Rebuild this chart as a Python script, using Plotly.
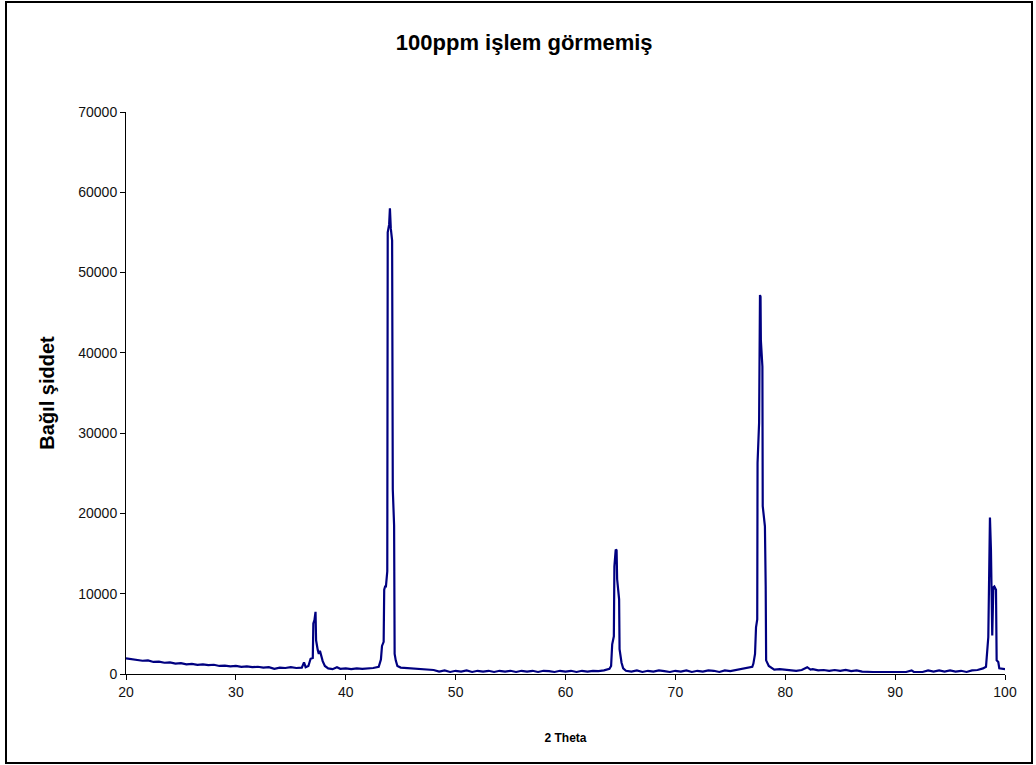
import plotly.graph_objects as go

title_text = "100ppm işlem görmemiş"
x_title = "2 Theta"
y_title = "Bağıl şiddet"

x_ticks = [20, 30, 40, 50, 60, 70, 80, 90, 100]
y_ticks = [0, 10000, 20000, 30000, 40000, 50000, 60000, 70000]

two_theta = [
    20.0, 20.5, 21.0, 21.5, 22.0, 22.5, 23.0, 23.5, 24.0, 24.5, 25.0, 25.5, 26.0, 26.5, 27.0, 27.5,
    28.0, 28.5, 29.0, 29.5, 30.0, 30.5, 31.0, 31.5, 32.0, 32.5, 33.0, 33.5, 34.0, 34.5, 35.0, 35.5, 36.0,
    36.2, 36.35, 36.6, 36.8, 37.0, 37.05, 37.15, 37.25, 37.3, 37.45, 37.55, 37.65, 37.75, 37.9, 38.1,
    38.4, 38.8, 39.2, 39.5, 40.0, 40.5, 41.0, 41.5, 42.0, 42.5, 43.0,
    43.2, 43.3, 43.45, 43.5, 43.6, 43.65, 43.78, 43.82, 43.95, 44.02, 44.1, 44.22, 44.28, 44.4, 44.45,
    44.55, 44.7, 45.0, 45.5, 46.0, 46.5, 47.0, 47.5, 48.0, 48.5, 49.0, 49.5, 50.0, 50.5, 51.0, 51.5,
    52.0, 52.5, 53.0, 53.5, 54.0, 54.5, 55.0, 55.5, 56.0, 56.5, 57.0, 57.5, 58.0, 58.5, 59.0, 59.5,
    60.0, 60.5, 61.0, 61.5, 62.0, 62.5, 63.0, 63.5, 64.0,
    64.15, 64.25, 64.4, 64.45, 64.57, 64.65, 64.7, 64.88, 64.92, 65.1, 65.25, 65.5, 66.0, 66.5, 67.0,
    67.5, 68.0, 68.5, 69.0, 69.5, 70.0, 70.5, 71.0, 71.5, 72.0, 72.5, 73.0, 73.5, 74.0, 74.5, 75.0,
    75.5, 76.0, 76.5, 77.0,
    77.1, 77.25, 77.34, 77.45, 77.48, 77.62, 77.7, 77.75, 77.78, 77.92, 77.95, 78.15, 78.22, 78.26,
    78.5, 78.8, 79.0, 79.5, 80.0, 80.5, 81.0, 81.5, 82.0, 82.3, 82.5, 83.0, 83.5, 84.0, 84.5, 85.0,
    85.5, 86.0, 86.5, 87.0, 87.5, 88.0, 88.5, 89.0, 89.5, 90.0, 90.5, 91.0, 91.5, 91.7, 92.0, 92.5,
    93.0, 93.5, 94.0, 94.5, 95.0, 95.5, 96.0, 96.5, 97.0, 97.5, 98.0,
    98.27, 98.48, 98.63, 98.72, 98.84, 98.94, 99.03, 99.18, 99.24, 99.39, 99.48, 100.0,
]

intensity = [
    1950, 1850, 1800, 1650, 1700, 1500, 1550, 1400, 1450, 1300, 1350, 1200, 1250, 1150, 1200, 1100,
    1150, 1000, 1050, 950, 1000, 900, 950, 850, 900, 800, 850, 650, 800, 750, 850, 750, 800,
    1450, 850, 1000, 1900, 2000, 6300, 6700, 7750, 4200, 3000, 2500, 2900, 2300, 1600, 1000,
    700, 600, 850, 650, 700, 600, 700, 650, 700, 750, 900,
    1800, 3500, 4000, 10500, 11000, 10800, 12800, 55000, 56000, 58000, 55500, 54000, 23000, 18500, 2500,
    1700, 1000, 800, 750, 650, 600, 600, 550, 500, 300, 450, 250, 400, 300, 450, 250,
    400, 300, 400, 250, 400, 300, 400, 250, 400, 300, 400, 250, 400, 350, 250, 400,
    300, 400, 250, 400, 300, 400, 350, 450, 650,
    1000, 3700, 4700, 13400, 15500, 15400, 11800, 9300, 3100, 1400, 700, 400, 300, 450, 250,
    400, 300, 450, 350, 250, 400, 300, 450, 250, 400, 300, 450, 400, 250, 450, 350,
    500, 600, 800, 900,
    1300, 2500, 5800, 6800, 26300, 31300, 47200, 47000, 41600, 38300, 20900, 18400, 11000, 1700,
    1000, 700, 550, 600, 550, 500, 400, 500, 850, 550, 600, 450, 500, 400, 500, 400,
    500, 350, 450, 300, 250, 250, 250, 250, 250, 250, 250, 250, 450, 250, 250, 250,
    450, 300, 450, 300, 450, 300, 400, 250, 450, 500, 700,
    900, 4600, 19500, 15500, 4800, 10800, 10900, 10500, 1700, 1500, 700, 600,
]

W, H = 1036, 765
ML, MR, MT, MB = 126, 31, 112, 91
pw, ph = W - ML - MR, H - MT - MB

fig = go.Figure()
fig.add_trace(go.Scatter(
    x=two_theta, y=intensity, mode="lines",
    line=dict(color="#000080", width=2.2),
    showlegend=False, hoverinfo="skip",
))

# outer chart border (figure-pixel positions converted to paper coords)
def px_x(p):
    return (p - ML) / pw

def px_y(p):
    return (H - MB - p) / ph

fig.add_shape(type="rect", xref="paper", yref="paper",
              x0=px_x(6), x1=px_x(1032), y0=px_y(763), y1=px_y(2),
              line=dict(color="black", width=2), fillcolor="rgba(0,0,0,0)", layer="below")

fig.update_layout(
    width=W, height=H,
    margin=dict(l=ML, r=MR, t=MT, b=MB, pad=0),
    paper_bgcolor="white", plot_bgcolor="white",
    font=dict(family="Liberation Sans, Arial, sans-serif", color="#111111", size=14),
    title=dict(text="<b>" + title_text + "</b>", x=0.506, xanchor="center",
               y=1 - 42 / H, yanchor="middle",
               font=dict(size=22, color="black")),
    xaxis=dict(
        range=[20, 100], tickvals=x_ticks, ticktext=[str(v) for v in x_ticks],
        showgrid=False, zeroline=False, showline=True, linecolor="black", linewidth=1,
        ticks="outside", ticklen=5, tickcolor="black", tickfont=dict(size=14),
        title=dict(text="<b>" + x_title + "</b>", font=dict(size=12, color="black"), standoff=34),
    ),
    yaxis=dict(
        range=[0, 70000], tickvals=y_ticks, ticktext=[str(v) for v in y_ticks],
        showgrid=False, zeroline=False, showline=True, linecolor="black", linewidth=1,
        ticks="outside", ticklen=5, tickcolor="black", tickfont=dict(size=14),
        title=dict(text="<b>" + y_title + "</b>", font=dict(size=20, color="black"), standoff=18),
    ),
)

fig.write_html("out.html")
